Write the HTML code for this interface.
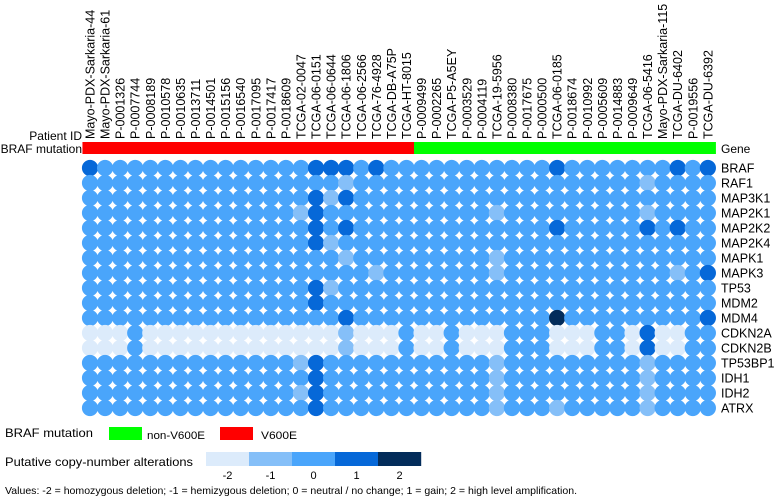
<!DOCTYPE html>
<html><head><meta charset="utf-8"><style>
html,body{margin:0;padding:0;background:#fff;}
svg{display:block;font-family:"Liberation Sans",Arial,sans-serif;}
</style></head><body>
<svg id="chart" width="778" height="499" viewBox="0 0 778 499">
<g id="collabels"></g>
<g id="bars"></g>
<g id="cells"></g>
<g id="genes"></g>
<text x="82" y="140" font-size="12" text-anchor="end">Patient ID</text>
<text x="82" y="153" font-size="12" text-anchor="end">BRAF mutation</text>
<text x="721" y="153" font-size="12">Gene</text>
<g>
<text x="5" y="437" font-size="12" textLength="88" lengthAdjust="spacingAndGlyphs">BRAF mutation</text>
<rect x="109" y="427" width="33" height="13" fill="#00ff00"/>
<text x="147" y="439" font-size="11" textLength="58" lengthAdjust="spacingAndGlyphs">non-V600E</text>
<rect x="220" y="427" width="33" height="13" fill="#ff0000"/>
<text x="261" y="439" font-size="11" textLength="36" lengthAdjust="spacingAndGlyphs">V600E</text>
</g>
<g id="cnalegend">
<text x="5" y="466" font-size="12" textLength="188" lengthAdjust="spacingAndGlyphs">Putative copy-number alterations</text>
</g>
<text x="5" y="494" font-size="10.5" textLength="572" lengthAdjust="spacingAndGlyphs">Values: -2 = homozygous deletion; -1 = hemizygous deletion; 0 = neutral / no change; 1 = gain; 2 = high level amplification.</text>
</svg>
<script>
const patients = ["Mayo-PDX-Sarkaria-44","Mayo-PDX-Sarkaria-61","P-0001326","P-0007744","P-0008189","P-0010578","P-0010635","P-0013711","P-0014501","P-0015156","P-0016540","P-0017095","P-0017417","P-0018609","TCGA-02-0047","TCGA-06-0151","TCGA-06-0644","TCGA-06-1806","TCGA-06-2566","TCGA-76-4928","TCGA-DB-A75P","TCGA-HT-8015","P-0009499","P-0002265","TCGA-P5-A5EY","P-0003529","P-0004119","TCGA-19-5956","P-0008380","P-0017675","P-0000500","TCGA-06-0185","P-0018674","P-0010992","P-0005609","P-0014883","P-0009649","TCGA-06-5416","Mayo-PDX-Sarkaria-115","TCGA-DU-6402","P-0019556","TCGA-DU-6392"];
const brafMutation = ["V600E","V600E","V600E","V600E","V600E","V600E","V600E","V600E","V600E","V600E","V600E","V600E","V600E","V600E","V600E","V600E","V600E","V600E","V600E","V600E","V600E","V600E","non-V600E","non-V600E","non-V600E","non-V600E","non-V600E","non-V600E","non-V600E","non-V600E","non-V600E","non-V600E","non-V600E","non-V600E","non-V600E","non-V600E","non-V600E","non-V600E","non-V600E","non-V600E","non-V600E","non-V600E"];
const genes = ["BRAF","RAF1","MAP3K1","MAP2K1","MAP2K2","MAP2K4","MAPK1","MAPK3","TP53","MDM2","MDM4","CDKN2A","CDKN2B","TP53BP1","IDH1","IDH2","ATRX"];
const cnaBRAF   = [1,0,0,0,0,0,0,0,0,0, 0,0,0,0,0,1,1,1,0,1, 0,0,0,0,0,0,0,0,0,0, 0,1,0,0,0,0,0,0,0,1, 0,1];
const cnaRAF1   = [0,0,0,0,0,0,0,0,0,0, 0,0,0,0,0,0,0,-1,0,0, 0,0,0,0,0,0,0,0,0,0, 0,0,0,0,0,0,0,-1,0,0, 0,0];
const cnaMAP3K1 = [0,0,0,0,0,0,0,0,0,0, 0,0,0,0,0,1,-1,1,0,0, 0,0,0,0,0,0,0,0,0,0, 0,0,0,0,0,0,0,0,0,0, 0,0];
const cnaMAP2K1 = [0,0,0,0,0,0,0,0,0,0, 0,0,0,0,-1,1,0,0,0,0, 0,0,0,0,0,0,0,-1,0,0, 0,0,0,0,0,0,0,-1,0,0, 0,0];
const cnaMAP2K2 = [0,0,0,0,0,0,0,0,0,0, 0,0,0,0,0,1,0,1,0,0, 0,0,0,0,0,0,0,0,0,0, 0,1,0,0,0,0,0,1,0,1, 0,0];
const cnaMAP2K4 = [0,0,0,0,0,0,0,0,0,0, 0,0,0,0,0,1,-1,0,0,0, 0,0,0,0,0,0,0,0,0,0, 0,0,0,0,0,0,0,0,0,0, 0,0];
const cnaMAPK1  = [0,0,0,0,0,0,0,0,0,0, 0,0,0,0,0,0,0,-1,0,0, 0,0,0,0,0,0,0,-1,0,0, 0,0,0,0,0,0,0,0,0,0, 0,0];
const cnaMAPK3  = [0,0,0,0,0,0,0,0,0,0, 0,0,0,0,0,0,0,0,0,-1, 0,0,0,0,0,0,0,-1,0,0, 0,0,0,0,0,0,0,0,0,-1, 0,1];
const cnaTP53   = [0,0,0,0,0,0,0,0,0,0, 0,0,0,0,0,1,-1,0,0,0, 0,0,0,0,0,0,0,0,0,0, 0,0,0,0,0,0,0,0,0,0, 0,0];
const cnaMDM2   = [0,0,0,0,0,0,0,0,0,0, 0,0,0,0,0,1,0,0,0,0, 0,0,0,0,0,0,0,0,0,0, 0,0,0,0,0,0,0,0,0,0, 0,0];
const cnaMDM4   = [0,0,0,0,0,0,0,0,0,0, 0,0,0,0,0,0,0,1,0,0, 0,0,0,0,0,0,0,0,0,0, 0,2,0,0,0,0,0,0,0,0, 0,1];
const cnaCDKN2A = [-2,-2,-2,0,-2,-2,-2,-2,-2,-2, -2,-2,-2,-2,-2,-2,-2,-1,-2,-2, -2,0,-2,-2,0,-2,-2,-2,0,0, 0,-2,-2,-2,0,0,-2,1,-2,-2, 0,0];
const cnaCDKN2B = [-2,-2,-2,0,-2,-2,-2,-2,-2,-2, -2,-2,-2,-2,-2,-2,-2,-1,-2,-2, -2,0,-2,-2,0,-2,-2,-2,0,0, 0,-2,-2,-2,0,0,-2,1,-2,-2, 0,0];
const cnaTP53BP1= [0,0,0,0,0,0,0,0,0,0, 0,0,0,0,-1,1,0,0,0,0, 0,0,0,0,0,0,0,-1,0,0, 0,0,0,0,0,0,0,-1,0,0, 0,0];
const cnaIDH1   = [0,0,0,0,0,0,0,0,0,0, 0,0,0,0,0,1,0,0,0,0, 0,0,0,0,0,0,0,-1,0,0, 0,0,0,0,0,0,0,-1,0,0, 0,0];
const cnaIDH2   = [0,0,0,0,0,0,0,0,0,0, 0,0,0,0,-1,1,0,0,0,0, 0,0,0,0,0,0,0,-1,0,0, 0,0,0,0,0,0,0,-1,0,0, 0,0];
const cnaATRX   = [0,0,0,0,0,0,0,0,0,0, 0,0,0,0,0,1,0,0,0,0, 0,0,0,0,0,0,0,-1,0,0, 0,-1,0,0,0,0,0,-1,0,0, 0,0];
const cnaLevels = [-2,-1,0,1,2];

const cnaRows = [cnaBRAF,cnaRAF1,cnaMAP3K1,cnaMAP2K1,cnaMAP2K2,cnaMAP2K4,cnaMAPK1,cnaMAPK3,cnaTP53,cnaMDM2,cnaMDM4,cnaCDKN2A,cnaCDKN2B,cnaTP53BP1,cnaIDH1,cnaIDH2,cnaATRX];
const NS="http://www.w3.org/2000/svg";
const colX = i => 90 + i*15.07;
const rowY = j => 168 + j*15;
const cnaColor = v => ({"-2":"#dcebfb","-1":"#85bff8","0":"#4aa5fb","1":"#0668d8","2":"#032c5a"})[String(v)];
const mutColor = m => m==="V600E" ? "#ff0000" : "#00ff00";
function mk(tag, attrs, parent){const e=document.createElementNS(NS,tag);for(const k in attrs)e.setAttribute(k,attrs[k]);parent.appendChild(e);return e;}

const gL=document.getElementById('collabels'), gB=document.getElementById('bars'), gC=document.getElementById('cells'), gG=document.getElementById('genes');
patients.forEach((p,i)=>{
  const x=colX(i)+4.5;
  const t=mk('text',{x:0,y:0,'font-size':'12.5',transform:`translate(${x},139) rotate(-90)`},gL);
  t.textContent=p;
  
  
  const r=mk('rect',{x:colX(i)-7.55,y:142,width:15.6,height:12,fill:mutColor(brafMutation[i])},gB);
  
  
});
genes.forEach((g,j)=>{
  const t=mk('text',{x:721,y:rowY(j)+4.5,'font-size':'12.5'},gG);
  t.textContent=g;
  
  
  cnaRows[j].forEach((v,i)=>{
    const c=mk('circle',{cx:colX(i),cy:rowY(j),r:8.1,fill:cnaColor(v)},gC);
    
    
  });
});
const gLeg=document.getElementById('cnalegend');
cnaLevels.forEach((v,k)=>{
  const r=mk('rect',{x:206+k*43,y:452,width:43.2,height:14,fill:cnaColor(v)},gLeg);
  
  
  const t=mk('text',{x:206+k*43+21.5,y:479,'font-size':'11','text-anchor':'middle'},gLeg);
  t.textContent=String(v);
  
  
});
</script>
</body></html>
